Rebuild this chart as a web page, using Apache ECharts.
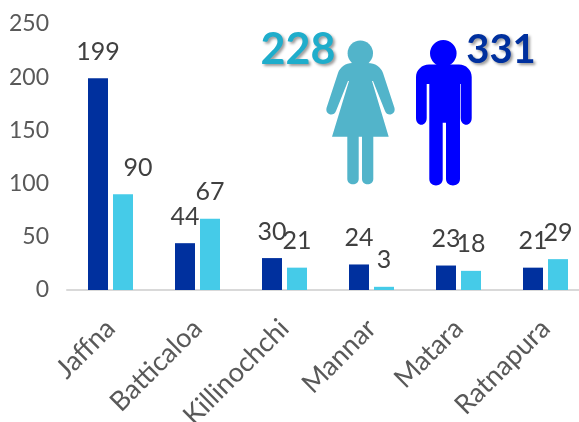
<!DOCTYPE html>
<html><head><meta charset="utf-8">
<style>html,body{margin:0;padding:0;background:#fff}#c{width:579px;height:422px}</style>
<script src="https://cdn.jsdelivr.net/npm/echarts@6/dist/echarts.min.js"></script>
</head><body><div id="c"></div>
<script>
const categories = ['Jaffna','Batticaloa','Killinochchi','Mannar','Matara','Ratnapura'];
const maleValues = [199,44,30,24,23,21];
const femaleValues = [90,67,21,3,18,29];
const femaleTotal = '228';
const maleTotal = '331';
const font = 'Lato';
const womanPath = 'M352 63 H368 C375 63 381 67 383 73 L394.5 108 C396 115 387 117 385 111 L373 81 L372 81 L388.7 136.7 H373.3 V179 C373.3 186 362 186 362 179 V136.7 H358.7 V179 C358.7 186 347.3 186 347.3 179 V136.7 H332 L349 81 L348 81 L336 111 C334 117 325 115 326.5 108 L338 73 C340 67 346 63 352 63 Z';
const manPath = 'M429 64.5 H459 C466 64.5 471.7 70 471.7 77 V118 C471.7 127 460.7 127 460.7 118 V84 H460 V179 C460 187.5 446 187.5 446 179 V122.7 H442.7 V179 C442.7 187.5 429.3 187.5 429.3 179 V84 H426.7 V118 C426.7 127 416 127 416 118 V77 C416 70 422 64.5 429 64.5 Z';
echarts.graphic.registerShape('womanIcon', echarts.graphic.extendPath(womanPath, {}));
echarts.graphic.registerShape('manIcon', echarts.graphic.extendPath(manPath, {}));
const chart = echarts.init(document.getElementById('c'));
const lab = {show:true,position:'top',distance:14,fontFamily:font,fontSize:25,color:'#404040'};
chart.setOption({
  animation:false,
  grid:{left:67,top:24,width:522,height:266,containLabel:false,outerBoundsMode:'none'},
  xAxis:{type:'category',data:categories,
    axisLine:{lineStyle:{color:'#D9D9D9',width:2}},axisTick:{show:false},
    axisLabel:{rotate:45,interval:0,margin:34,fontFamily:font,fontSize:27,color:'#595959'}},
  yAxis:{type:'value',min:0,max:250,interval:50,
    axisLine:{show:false},axisTick:{show:false},splitLine:{show:false},
    axisLabel:{margin:18,fontFamily:font,fontSize:23,color:'#595959'}},
  series:[
    {type:'bar',data:maleValues,barWidth:20,barGap:'25%',itemStyle:{color:'#00309E'},label:lab},
    {type:'bar',data:femaleValues.map((v,i)=> i===0?{value:v,label:{offset:[15,0]}}:v),barWidth:20,itemStyle:{color:'#45CBE8'},label:lab}
  ],
  graphic:[
    {type:'circle',shape:{cx:360.3,cy:53.3,r:12.7},style:{fill:'#52B4CA'}},
    {type:'womanIcon',style:{fill:'#52B4CA'}},
    {type:'circle',shape:{cx:443.3,cy:53.3,r:13.3},style:{fill:'#0000FF'}},
    {type:'manIcon',style:{fill:'#0000FF'}},
    {type:'text',x:298,y:50,style:{text:femaleTotal,fontFamily:font,fontSize:43,fontWeight:'bold',fill:'#1FADCB',align:'center',verticalAlign:'middle',textShadowColor:'rgba(0,0,0,0.4)',textShadowBlur:3,textShadowOffsetX:2,textShadowOffsetY:2}},
    {type:'text',x:501,y:50,style:{text:maleTotal,fontFamily:font,fontSize:40,fontWeight:'bold',fill:'#00309E',align:'center',verticalAlign:'middle',textShadowColor:'rgba(0,0,0,0.4)',textShadowBlur:3,textShadowOffsetX:2,textShadowOffsetY:2}}
  ]
});
</script></body></html>
